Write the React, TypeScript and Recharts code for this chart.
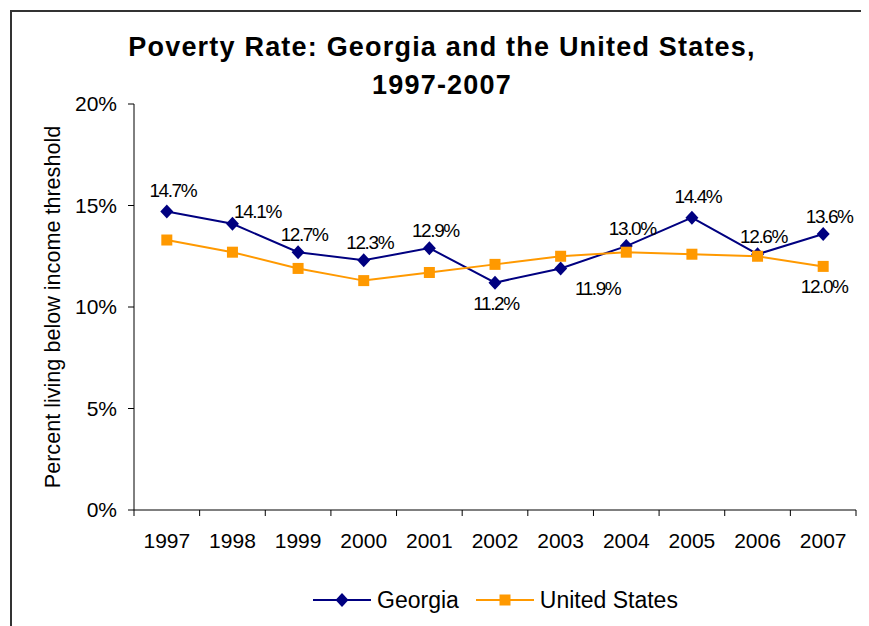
import React from 'react';
import { LineChart, Line, XAxis, YAxis, Legend, LabelList } from 'recharts';

// values
const years = ['1997', '1998', '1999', '2000', '2001', '2002', '2003', '2004', '2005', '2006', '2007'];
const georgia = [14.7, 14.1, 12.7, 12.3, 12.9, 11.2, 11.9, 13.0, 14.4, 12.6, 13.6];
const unitedStates = [13.3, 12.7, 11.9, 11.3, 11.7, 12.1, 12.5, 12.7, 12.6, 12.5, 12.0];
const yTicks = [0, 5, 10, 15, 20];

// where each data label sits (as in the original sheet)
const georgiaLabelSpots = ['aboveHigh', 'right', 'above', 'above', 'above', 'below', 'belowRight', 'above', 'aboveHigh', 'above', 'above'];
const usLabelSpots = [null, null, null, null, null, null, null, null, null, null, 'below'];

const FONT = '"Liberation Sans", Arial, sans-serif';
const NAVY = '#000080';
const ORANGE = '#FF9900';
const W = 852;
const H = 640;
const PLOT_W = 722;
const HALF_BAND = PLOT_W / years.length / 2;

const data = years.map((year, i) => ({
  year,
  georgia: georgia[i],
  us: unitedStates[i],
}));

const spotOffset: Record<string, { dx: number; dy: number }> = {
  above: { dx: 6, dy: -11 },
  aboveHigh: { dx: 6, dy: -15 },
  right: { dx: 25, dy: -6 },
  below: { dx: 1, dy: 27 },
  belowRight: { dx: 37, dy: 27 },
};

const makeLabel = (spots: (string | null)[]) => (props: any) => {
  const { x, y, value, index } = props;
  const spot = spots[index];
  if (!spot) return null;
  const o = spotOffset[spot];
  return (
    <text
      x={x + o.dx}
      y={y + o.dy}
      textAnchor="middle"
      fontFamily={FONT}
      fontSize={19}
      letterSpacing={-1.4}
      fill="#000"
    >
      {`${Number(value).toFixed(1)}%`}
    </text>
  );
};

const Diamond = (props: any) => {
  const { cx, cy } = props;
  if (cx == null || cy == null) return null;
  return <path d={`M${cx},${cy - 7} L${cx + 6.5},${cy} L${cx},${cy + 7} L${cx - 6.5},${cy} Z`} fill={NAVY} />;
};

const Square = (props: any) => {
  const { cx, cy } = props;
  if (cx == null || cy == null) return null;
  return <rect x={cx - 5.5} y={cy - 5.5} width={11} height={11} fill={ORANGE} />;
};

const XTick = (props: any) => {
  const { x, y, payload, index } = props;
  const axisY = y - 6;
  return (
    <g>
      <line x1={x - HALF_BAND} y1={axisY} x2={x - HALF_BAND} y2={axisY + 6} stroke="#000" />
      {index === years.length - 1 && (
        <line x1={x + HALF_BAND} y1={axisY} x2={x + HALF_BAND} y2={axisY + 6} stroke="#000" />
      )}
      <text x={x} y={axisY + 38} textAnchor="middle" fontFamily={FONT} fontSize={21} fill="#000">
        {payload.value}
      </text>
    </g>
  );
};

const YLabel = (props: any) => {
  const { viewBox } = props;
  const cx = 40;
  const cy = viewBox.y + viewBox.height / 2;
  return (
    <text
      x={cx}
      y={cy}
      transform={`rotate(-90, ${cx}, ${cy})`}
      textAnchor="middle"
      dominantBaseline="central"
      fontFamily={FONT}
      fontSize={21.6}
      fill="#000"
    >
      Percent living below income threshold
    </text>
  );
};

const LegendContent = () => (
  <div
    style={{
      display: 'flex',
      alignItems: 'center',
      paddingLeft: 301,
      fontFamily: FONT,
      fontSize: 23,
      lineHeight: '26px',
      color: '#000',
    }}
  >
    <svg width={58} height={16}>
      <line x1={0} y1={8} x2={58} y2={8} stroke={NAVY} strokeWidth={2} />
      <path d="M29,1 L35.5,8 L29,15 L22.5,8 Z" fill={NAVY} />
    </svg>
    <span style={{ marginLeft: 6, marginRight: 17 }}>Georgia</span>
    <svg width={58} height={16}>
      <line x1={0} y1={8} x2={58} y2={8} stroke={ORANGE} strokeWidth={2} />
      <rect x={23.5} y={2.5} width={11} height={11} fill={ORANGE} />
    </svg>
    <span style={{ marginLeft: 6 }}>United States</span>
  </div>
);

export default function App() {
  return (
    <div
      style={{
        position: 'relative',
        marginLeft: 2,
        marginTop: 2,
        width: W,
        height: H,
        border: '2px solid #333',
        background: '#fff',
      }}
    >
      <div
        style={{
          position: 'absolute',
          top: 16,
          left: 4,
          width: W,
          textAlign: 'center',
          fontFamily: FONT,
          fontWeight: 'bold',
          fontSize: 27,
          letterSpacing: 1.2,
          lineHeight: '38px',
          color: '#000',
        }}
      >
        Poverty Rate: Georgia and the United States,
        <br />
        1997-2007
      </div>
      <LineChart width={W} height={H} data={data} margin={{ top: 92, right: 8, left: 42, bottom: 92 }}>
        <XAxis
          dataKey="year"
          padding={{ left: HALF_BAND, right: HALF_BAND }}
          interval={0}
          height={50}
          tickSize={6}
          tickMargin={0}
          tickLine={false}
          axisLine={{ stroke: '#000' }}
          tick={<XTick />}
        />
        <XAxis
          xAxisId="top"
          orientation="top"
          dataKey="year"
          height={0}
          tick={false}
          tickLine={false}
          axisLine={{ stroke: '#888' }}
        />
        <YAxis
          domain={[0, 20]}
          ticks={yTicks}
          width={80}
          tickSize={6}
          tickMargin={11}
          tickFormatter={(v) => `${v}%`}
          tick={{ fontFamily: FONT, fontSize: 21, fill: '#000' }}
          tickLine={{ stroke: '#000' }}
          axisLine={{ stroke: '#000' }}
          label={<YLabel />}
        />
        <YAxis
          yAxisId="right"
          orientation="right"
          domain={[0, 20]}
          width={0}
          tick={false}
          tickLine={false}
          axisLine={{ stroke: '#888' }}
        />
        <Legend
          layout="horizontal"
          verticalAlign="middle"
          align="center"
          content={<LegendContent />}
          wrapperStyle={{ top: 575, left: 0, width: W }}
        />
        <Line
          name="Georgia"
          dataKey="georgia"
          stroke={NAVY}
          strokeWidth={2}
          dot={<Diamond />}
          activeDot={false}
          isAnimationActive={false}
        >
          <LabelList dataKey="georgia" content={makeLabel(georgiaLabelSpots)} />
        </Line>
        <Line
          name="United States"
          dataKey="us"
          stroke={ORANGE}
          strokeWidth={2}
          dot={<Square />}
          activeDot={false}
          isAnimationActive={false}
        >
          <LabelList dataKey="us" content={makeLabel(usLabelSpots)} />
        </Line>
      </LineChart>
    </div>
  );
}
